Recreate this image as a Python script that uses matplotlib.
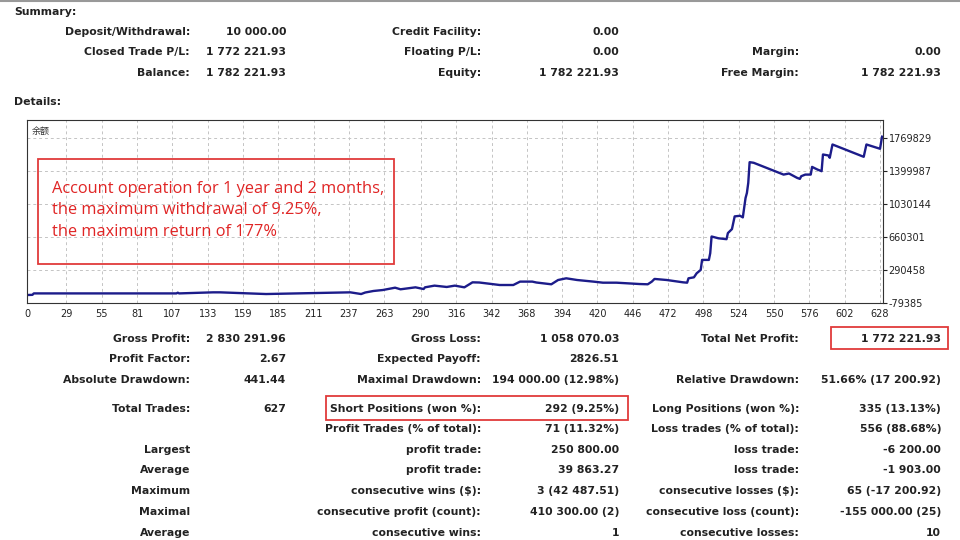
import matplotlib
matplotlib.use("Agg")
import matplotlib.pyplot as plt
from matplotlib.patches import Rectangle

# balance curve (trade index, balance)
trade_idx = [0, 4, 5, 110, 111, 112, 137, 142, 176, 238, 246, 249, 255, 262, 271, 275,
             286, 292, 293, 300, 309, 315, 322, 328, 333, 340, 348, 358, 363, 372, 375,
             380, 386, 391, 397, 405, 417, 424, 434, 442, 451, 457, 460, 462, 471, 483,
             486, 487, 491, 493, 496, 497, 502, 503, 504, 509, 515, 516, 519, 521, 525,
             527, 529, 530, 531, 532, 535, 557, 561, 567, 569, 570, 573, 577, 578, 582,
             585, 586, 590, 591, 593, 616, 618, 628, 629.5]
balance = [10000, 12000, 28000, 28000, 36000, 28000, 40000, 40000, 21000, 40000, 21000,
           38000, 55000, 66000, 92000, 74000, 96000, 77000, 96000, 115000, 100000,
           115000, 96000, 152000, 150000, 137000, 122000, 122000, 160000, 160000, 150000,
           141000, 130000, 178000, 197000, 178000, 160000, 148000, 148000, 141000,
           133000, 130000, 160000, 190000, 178000, 152000, 148000, 197000, 208000,
           253000, 291000, 403000, 403000, 478000, 665000, 645000, 635000, 703000,
           748000, 890000, 897000, 879000, 1096000, 1152000, 1265000, 1497000, 1490000,
           1358000, 1370000, 1321000, 1310000, 1340000, 1358000, 1358000, 1444000,
           1414000, 1396000, 1583000, 1572000, 1546000, 1695000, 1557000, 1695000,
           1647000, 1782222]

x_ticks = [0, 29, 55, 81, 107, 133, 159, 185, 211, 237, 263, 290, 316, 342, 368, 394,
           420, 446, 472, 498, 524, 550, 576, 602, 628]
y_ticks = [-79385, 290458, 660301, 1030144, 1399987, 1769829]

summary_rows = [
    ("Deposit/Withdrawal:", "10 000.00", "Credit Facility:", "0.00", "", ""),
    ("Closed Trade P/L:", "1 772 221.93", "Floating P/L:", "0.00", "Margin:", "0.00"),
    ("Balance:", "1 782 221.93", "Equity:", "1 782 221.93", "Free Margin:", "1 782 221.93"),
]
detail_rows = [
    ("Gross Profit:", "2 830 291.96", "Gross Loss:", "1 058 070.03", "Total Net Profit:", "1 772 221.93"),
    ("Profit Factor:", "2.67", "Expected Payoff:", "2826.51", "", ""),
    ("Absolute Drawdown:", "441.44", "Maximal Drawdown:", "194 000.00 (12.98%)", "Relative Drawdown:", "51.66% (17 200.92)"),
    ("Total Trades:", "627", "Short Positions (won %):", "292 (9.25%)", "Long Positions (won %):", "335 (13.13%)"),
    ("", "", "Profit Trades (% of total):", "71 (11.32%)", "Loss trades (% of total):", "556 (88.68%)"),
    ("Largest", "", "profit trade:", "250 800.00", "loss trade:", "-6 200.00"),
    ("Average", "", "profit trade:", "39 863.27", "loss trade:", "-1 903.00"),
    ("Maximum", "", "consecutive wins ($):", "3 (42 487.51)", "consecutive losses ($):", "65 (-17 200.92)"),
    ("Maximal", "", "consecutive profit (count):", "410 300.00 (2)", "consecutive loss (count):", "-155 000.00 (25)"),
    ("Average", "", "consecutive wins:", "1", "consecutive losses:", "10"),
]
note_lines = ["Account operation for 1 year and 2 months,",
              "the maximum withdrawal of 9.25%,",
              "the maximum return of 177%"]

W, H = 960, 540
fig = plt.figure(figsize=(9.6, 5.4), dpi=100)
fig.patch.set_facecolor("white")


def px(x, y):
    return x / W, 1 - y / H


def put(x, y, s, ha="right", **kw):
    opts = dict(fontsize=7.8, fontweight="bold", color="#222222", va="center", ha=ha)
    opts.update(kw)
    fig.text(*px(x, y), s, **opts)


def red_box(x0, y0, x1, y1):
    fig.patches.append(Rectangle(px(x0, y1), (x1 - x0) / W, (y1 - y0) / H,
                                 transform=fig.transFigure, fill=False,
                                 edgecolor="#e03a3a", linewidth=1.3))


# thin grey line along the top
fig.add_artist(plt.Line2D([0, 1], [0.999, 0.999], color="#999999", linewidth=1.5))

col_x = [190, 286, 481, 619, 799, 941]

put(14, 12, "Summary:", ha="left")
for row, y in zip(summary_rows, [32, 52, 73]):
    for cx, s in zip(col_x, row):
        if s:
            put(cx, y, s)
put(14, 102, "Details:", ha="left")

for row, y in zip(detail_rows, [339, 359, 380, 409, 429, 450, 470, 491, 512, 533]):
    for cx, s in zip(col_x, row):
        if s:
            put(cx, y, s)

red_box(831, 327, 948, 349)
red_box(326, 396, 628, 420)

# chart
ax = fig.add_axes([27 / W, 1 - 303 / H, 856 / W, 183 / H])
ax.plot(trade_idx, balance, color="#1c1c8a", linewidth=1.7)
ax.set_xlim(0, 630.2)
ax.set_ylim(-79385, 1969000)
ax.set_xticks(x_ticks)
ax.set_xticklabels([str(v) for v in x_ticks])
ax.set_yticks(y_ticks)
ax.set_yticklabels([str(v) for v in y_ticks])
ax.yaxis.tick_right()
ax.tick_params(axis="y", length=3, labelsize=7, pad=1, colors="#222222")
ax.tick_params(axis="x", length=0, labelsize=7, pad=4, colors="#222222")
ax.grid(True, linestyle=(0, (3, 3)), color="#c4c4c4", linewidth=0.7)
for sp in ax.spines.values():
    sp.set_color("#333333")
    sp.set_linewidth(0.8)

ax.text(0.005, 0.96, "余额", transform=ax.transAxes, fontsize=6.5, color="#333333",
        va="top", ha="left", family=["Noto Sans CJK SC", "DejaVu Sans"])

red_box(38, 159, 394, 264)
for i, line in enumerate(note_lines):
    fig.text(*px(52, 189 + i * 21.5), line, fontsize=11.8, color="#e02525",
             family="Open Sans", va="center", ha="left")

fig.savefig("out.png", dpi=100)
